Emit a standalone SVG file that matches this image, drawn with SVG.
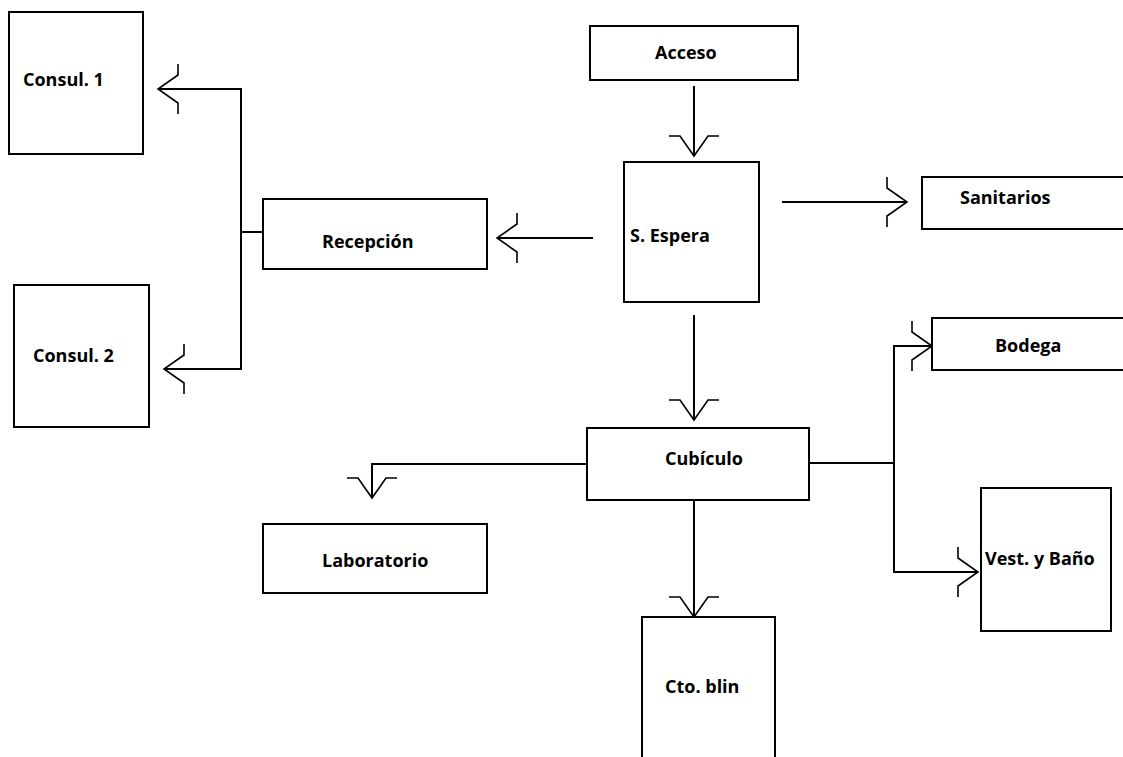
<svg xmlns="http://www.w3.org/2000/svg" width="1123" height="757" viewBox="0 0 1123 757">
  <style>
    .box { fill: #fff; stroke: #000; stroke-width: 2; }
    .lbl { font-family: "Open Sans", "DejaVu Sans", sans-serif; font-weight: bold; font-size: 18px; fill: #000; }
    .wire { fill: none; stroke: #000; stroke-width: 2; }
  </style>
  <defs>
    <marker id="openArrow" viewBox="-30 -30 60 60" markerWidth="60" markerHeight="60" refX="0" refY="0" markerUnits="userSpaceOnUse" orient="auto" overflow="visible">
      <path d="M-20,-25 L-20,-14 L0,0 L-20,14 L-20,25" fill="none" stroke="#000" stroke-width="1.6"/>
    </marker>
  </defs>
  <rect width="1123" height="757" fill="#fff"/>

  <g id="connectors" class="wire">
    <path d="M694,86 V156" marker-end="url(#openArrow)"/>
    <path d="M593,238 H497" marker-end="url(#openArrow)"/>
    <path d="M782,202 H907" marker-end="url(#openArrow)"/>
    <path d="M694,315 V420" marker-end="url(#openArrow)"/>
    <path d="M263,232 H241"/>
    <path d="M241,232 V89 H158" marker-end="url(#openArrow)"/>
    <path d="M241,232 V369 H164" marker-end="url(#openArrow)"/>
    <path d="M587,464 H372 V498" marker-end="url(#openArrow)"/>
    <path d="M694,500 V617" marker-end="url(#openArrow)"/>
    <path d="M806,463 H894"/>
    <path d="M894,463 V346 H932" marker-end="url(#openArrow)"/>
    <path d="M894,463 V572 H978" marker-end="url(#openArrow)"/>
  </g>

  <g id="acceso">
    <rect class="box" x="590" y="26" width="208" height="54"/>
    <text class="lbl" x="655" y="59">Acceso</text>
  </g>
  <g id="espera">
    <rect class="box" x="624" y="162" width="135" height="140"/>
    <text class="lbl" x="630" y="242">S. Espera</text>
  </g>
  <g id="sanitarios">
    <rect class="box" x="922" y="177" width="210" height="52"/>
    <text class="lbl" x="960" y="204">Sanitarios</text>
  </g>
  <g id="recepcion">
    <rect class="box" x="263" y="199" width="224" height="70"/>
    <text class="lbl" x="322" y="248">Recepción</text>
  </g>
  <g id="consul1">
    <rect class="box" x="9" y="12" width="134" height="142"/>
    <text class="lbl" x="23" y="86">Consul. 1</text>
  </g>
  <g id="consul2">
    <rect class="box" x="14" y="285" width="135" height="142"/>
    <text class="lbl" x="33" y="362">Consul. 2</text>
  </g>
  <g id="cubiculo">
    <rect class="box" x="587" y="428" width="222" height="72"/>
    <text class="lbl" x="665" y="465">Cubículo</text>
  </g>
  <g id="laboratorio">
    <rect class="box" x="263" y="524" width="224" height="69"/>
    <text class="lbl" x="322" y="567">Laboratorio</text>
  </g>
  <g id="ctoblin">
    <rect class="box" x="642" y="617" width="133" height="150"/>
    <text class="lbl" x="665" y="693">Cto. blin</text>
  </g>
  <g id="bodega">
    <rect class="box" x="932" y="318" width="200" height="52"/>
    <text class="lbl" x="995" y="352">Bodega</text>
  </g>
  <g id="vestbano">
    <rect class="box" x="981" y="488" width="130" height="143"/>
    <text class="lbl" x="985" y="565">Vest. y Baño</text>
  </g>
</svg>
